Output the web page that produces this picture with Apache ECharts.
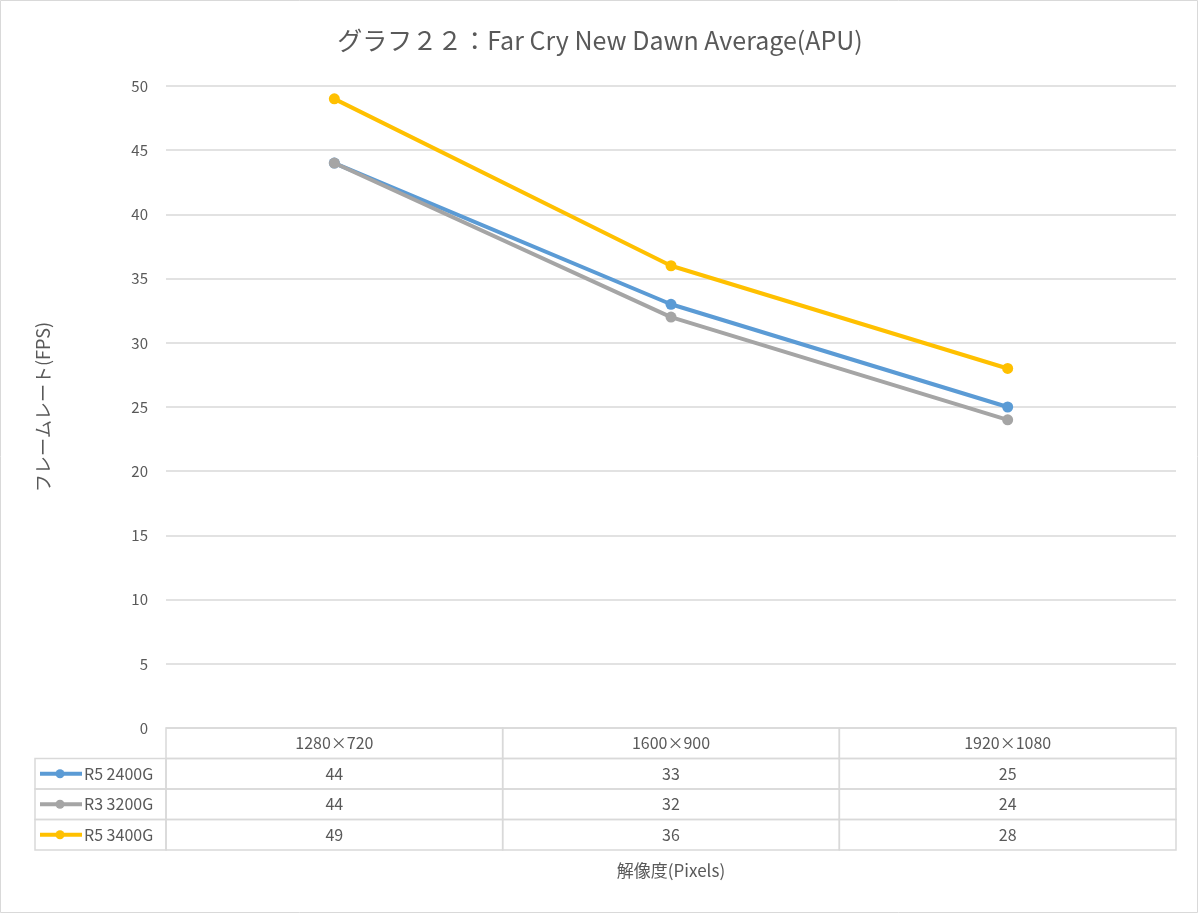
<!DOCTYPE html>
<html><head><meta charset="utf-8">
<script src="https://cdn.jsdelivr.net/npm/echarts@6/dist/echarts.min.js"></script>
<style>html,body{margin:0;padding:0;background:#fff}#c{width:1200px;height:915px}</style>
</head><body><div id="c"></div>
<script>
var titleText = 'グラフ２２：Far Cry New Dawn Average(APU)';
var categories = ['1280×720', '1600×900', '1920×1080'];
var seriesNames = ['R5 2400G', 'R3 3200G', 'R5 3400G'];
var r5_2400g = [44, 33, 25];
var r3_3200g = [44, 32, 24];
var r5_3400g = [49, 36, 28];
var seriesValues = [r5_2400g, r3_3200g, r5_3400g];
var colors = ['#5B9BD5', '#A5A5A5', '#FFC000'];
var yMin = 0, yMax = 50, yStep = 5;
var tableRows = ['header'].concat(seriesNames);

var FONT = '"Noto Sans CJK JP", "Noto Sans", sans-serif';
var TXT = '#595959';
var GRIDC = '#d9d9d9';

var cellData = [];
for (var c = 0; c < categories.length; c++) {
  for (var r = 0; r < tableRows.length; r++) cellData.push([c, r]);
}

var chart = echarts.init(document.getElementById('c'), null, {renderer: 'canvas'});

function renderCell(params, api) {
  var c = api.value(0), r = api.value(1);
  var center = api.coord([c, r]);
  var size = api.size([1, 1]);
  var w = size[0], h = size[1];
  var x0 = center[0] - w / 2, y0 = center[1] - h / 2;
  var text = r === 0 ? categories[c] : String(seriesValues[r - 1][c]);
  var children = [
    {type: 'rect', shape: {x: x0, y: y0, width: w, height: h},
     style: {fill: 'none', stroke: GRIDC, lineWidth: 1.5}},
    {type: 'text', style: {x: center[0], y: center[1], text: text, fill: TXT,
      font: '16px ' + FONT, textAlign: 'center', textVerticalAlign: 'middle'}}
  ];
  if (c === 0 && r > 0) {
    var lx = 35;
    var col = colors[r - 1];
    children.push({type: 'rect', shape: {x: lx, y: y0, width: x0 - lx, height: h},
      style: {fill: 'none', stroke: GRIDC, lineWidth: 1.5}});
    children.push({type: 'line', shape: {x1: lx + 5, y1: center[1], x2: lx + 47, y2: center[1]},
      style: {stroke: col, lineWidth: 4}});
    children.push({type: 'circle', shape: {cx: lx + 25, cy: center[1], r: 4.5},
      style: {fill: col}});
    children.push({type: 'text', style: {x: lx + 49, y: center[1], text: seriesNames[r - 1],
      fill: TXT, font: '16px ' + FONT, textAlign: 'left', textVerticalAlign: 'middle'}});
  }
  return {type: 'group', children: children};
}

var lineSeries = seriesNames.map(function (n, i) {
  return {
    name: n, type: 'line', xAxisIndex: 0, yAxisIndex: 0,
    data: seriesValues[i], symbol: 'circle', symbolSize: 11,
    lineStyle: {width: 4, color: colors[i]},
    itemStyle: {color: colors[i]},
    z: 3 + i, animation: false
  };
});

chart.setOption({
  animation: false,
  backgroundColor: '#fff',
  title: {
    text: titleText, left: 'center', top: 23,
    textStyle: {color: TXT, fontSize: 25, fontWeight: 'normal', fontFamily: FONT}
  },
  graphic: [{type: 'rect', shape: {x: 0.5, y: 0.5, width: 1197, height: 912},
    style: {fill: 'none', stroke: GRIDC, lineWidth: 1}, silent: true, z: -1}],
  grid: [
    {left: 166, right: 24, top: 86, bottom: 187},
    {left: 166, right: 24, top: 728, height: 122}
  ],
  xAxis: [
    {type: 'category', gridIndex: 0, data: categories, boundaryGap: true,
     axisLine: {show: false}, axisTick: {show: false}, axisLabel: {show: false}},
    {type: 'category', gridIndex: 1, data: categories, boundaryGap: true,
     axisLine: {show: false}, axisTick: {show: false}, axisLabel: {show: false},
     splitLine: {show: false},
     name: '解像度(Pixels)', nameLocation: 'middle', nameGap: 12,
     nameTextStyle: {color: TXT, fontSize: 17, fontFamily: FONT}}
  ],
  yAxis: [
    {type: 'value', gridIndex: 0, min: yMin, max: yMax, interval: yStep,
     axisLine: {show: false}, axisTick: {show: false},
     axisLabel: {color: TXT, fontSize: 15, fontFamily: FONT, margin: 18},
     splitLine: {lineStyle: {color: GRIDC, width: 1.5}},
     name: 'フレームレート(FPS)', nameLocation: 'middle', nameGap: 114, nameRotate: 90,
     nameTextStyle: {color: TXT, fontSize: 18, fontFamily: FONT}},
    {type: 'category', gridIndex: 1, data: tableRows, inverse: true, boundaryGap: true,
     axisLine: {show: false}, axisTick: {show: false}, axisLabel: {show: false},
     splitLine: {show: false}}
  ],
  series: lineSeries.concat([{
    type: 'custom', xAxisIndex: 1, yAxisIndex: 1, data: cellData,
    renderItem: renderCell, silent: true, animation: false
  }])
});
</script></body></html>
